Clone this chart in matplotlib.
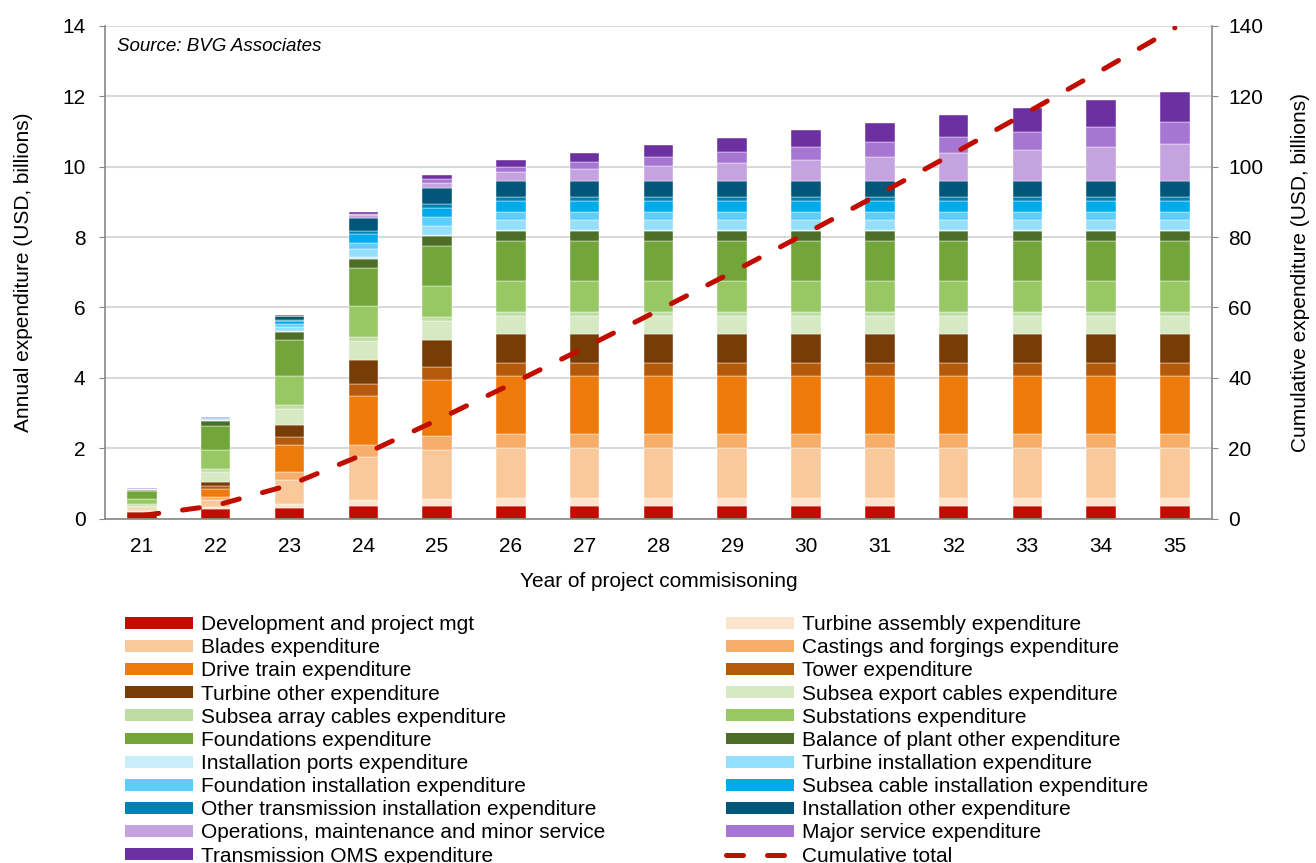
import numpy as np
import matplotlib.pyplot as plt
from matplotlib.patches import Patch
from matplotlib.lines import Line2D

plt.rcParams["font.family"] = ["Liberation Sans", "DejaVu Sans"]
plt.rcParams["font.size"] = 15

years = ["21", "22", "23", "24", "25", "26", "27", "28", "29", "30", "31", "32", "33", "34", "35"]

# annual expenditure per component, USD billions (segment heights)
dev = [0.20, 0.27, 0.30, 0.37, 0.37, 0.37, 0.37, 0.37, 0.37, 0.37, 0.37, 0.37, 0.37, 0.37, 0.37]
assembly = [0.02, 0.06, 0.13, 0.17, 0.20, 0.22, 0.22, 0.22, 0.22, 0.22, 0.22, 0.22, 0.22, 0.22, 0.22]
blades = [0.04, 0.21, 0.68, 1.21, 1.39, 1.42, 1.42, 1.42, 1.42, 1.42, 1.42, 1.42, 1.42, 1.42, 1.42]
castings = [0.01, 0.07, 0.21, 0.35, 0.40, 0.40, 0.40, 0.40, 0.40, 0.40, 0.40, 0.40, 0.40, 0.40, 0.40]
drive = [0.02, 0.23, 0.78, 1.39, 1.57, 1.63, 1.63, 1.63, 1.63, 1.63, 1.63, 1.63, 1.63, 1.63, 1.63]
tower = [0.01, 0.08, 0.21, 0.33, 0.38, 0.38, 0.38, 0.38, 0.38, 0.38, 0.38, 0.38, 0.38, 0.38, 0.38]
turb_other = [0.01, 0.11, 0.36, 0.70, 0.78, 0.82, 0.82, 0.82, 0.82, 0.82, 0.82, 0.82, 0.82, 0.82, 0.82]
export_cab = [0.06, 0.30, 0.45, 0.52, 0.52, 0.51, 0.51, 0.51, 0.51, 0.51, 0.51, 0.51, 0.51, 0.51, 0.51]
array_cab = [0.05, 0.09, 0.12, 0.12, 0.12, 0.13, 0.13, 0.13, 0.13, 0.13, 0.13, 0.13, 0.13, 0.13, 0.13]
substations = [0.15, 0.52, 0.80, 0.87, 0.89, 0.88, 0.88, 0.88, 0.88, 0.88, 0.88, 0.88, 0.88, 0.88, 0.88]
foundations = [0.21, 0.68, 1.03, 1.09, 1.14, 1.14, 1.14, 1.14, 1.14, 1.14, 1.14, 1.14, 1.14, 1.14, 1.14]
bop_other = [0.04, 0.16, 0.22, 0.27, 0.26, 0.26, 0.26, 0.26, 0.26, 0.26, 0.26, 0.26, 0.26, 0.26, 0.26]
ports = [0.005, 0.01, 0.03, 0.03, 0.03, 0.03, 0.03, 0.03, 0.03, 0.03, 0.03, 0.03, 0.03, 0.03, 0.03]
turb_inst = [0.005, 0.01, 0.13, 0.25, 0.27, 0.30, 0.30, 0.30, 0.30, 0.30, 0.30, 0.30, 0.30, 0.30, 0.30]
found_inst = [0.005, 0.03, 0.09, 0.16, 0.24, 0.23, 0.23, 0.23, 0.23, 0.23, 0.23, 0.23, 0.23, 0.23, 0.23]
cable_inst = [0.005, 0.01, 0.07, 0.27, 0.28, 0.31, 0.31, 0.31, 0.31, 0.31, 0.31, 0.31, 0.31, 0.31, 0.31]
trans_inst = [0.005, 0.01, 0.02, 0.08, 0.11, 0.11, 0.11, 0.11, 0.11, 0.11, 0.11, 0.11, 0.11, 0.11, 0.11]
inst_other = [0.005, 0.01, 0.12, 0.37, 0.45, 0.46, 0.46, 0.46, 0.46, 0.46, 0.46, 0.46, 0.46, 0.46, 0.46]
om_minor = [0.005, 0.01, 0.01, 0.07, 0.15, 0.26, 0.34, 0.43, 0.51, 0.60, 0.68, 0.80, 0.88, 0.97, 1.05]
major = [0.005, 0.005, 0.01, 0.04, 0.10, 0.14, 0.20, 0.25, 0.32, 0.37, 0.43, 0.45, 0.51, 0.57, 0.63]
trans_oms = [0.005, 0.005, 0.01, 0.05, 0.11, 0.18, 0.26, 0.33, 0.39, 0.46, 0.54, 0.61, 0.69, 0.75, 0.84]

series = [
    ("Development and project mgt", dev, "#C00D00"),
    ("Turbine assembly expenditure", assembly, "#FDE4CC"),
    ("Blades expenditure", blades, "#FAC99B"),
    ("Castings and forgings expenditure", castings, "#F8AE6B"),
    ("Drive train expenditure", drive, "#EF7A0C"),
    ("Tower expenditure", tower, "#B5590B"),
    ("Turbine other expenditure", turb_other, "#783C06"),
    ("Subsea export cables expenditure", export_cab, "#D5E9C2"),
    ("Subsea array cables expenditure", array_cab, "#BEDDA0"),
    ("Substations expenditure", substations, "#98C864"),
    ("Foundations expenditure", foundations, "#72A63B"),
    ("Balance of plant other expenditure", bop_other, "#4C6E27"),
    ("Installation ports expenditure", ports, "#C9EEFB"),
    ("Turbine installation expenditure", turb_inst, "#94DFFC"),
    ("Foundation installation expenditure", found_inst, "#5FCDFB"),
    ("Subsea cable installation expenditure", cable_inst, "#00ABEB"),
    ("Other transmission installation expenditure", trans_inst, "#0081B5"),
    ("Installation other expenditure", inst_other, "#02567A"),
    ("Operations, maintenance and minor service", om_minor, "#C5A3E0"),
    ("Major service expenditure", major, "#A775D2"),
    ("Transmission OMS expenditure", trans_oms, "#6D30A0"),
]

fig = plt.figure(figsize=(13.16, 8.63), dpi=100)
ax = fig.add_axes([0.0798, 0.399, 0.841, 0.571])

x = np.arange(len(years))
bottom = np.zeros(len(years))
handles = []
for name, vals, col in series:
    ax.bar(x, vals, 0.4, bottom=bottom, color=col, edgecolor="white", linewidth=0.3, zorder=2)
    bottom += np.array(vals)
    handles.append(Patch(facecolor=col, label=name))

ax.set_xlim(-0.5, len(years) - 0.5)
ax.set_ylim(0, 14)
ax.set_yticks(np.arange(0, 15, 2))
ax.set_xticks(x)
ax.set_xticklabels(years)
ax.yaxis.grid(True, color="#D9D9D9", linewidth=1.5, zorder=0)
ax.set_axisbelow(True)
for s in ["top", "right"]:
    ax.spines[s].set_visible(False)
for s in ["left", "bottom"]:
    ax.spines[s].set_color("#888888")
    ax.spines[s].set_linewidth(1.2)
ax.tick_params(axis="x", length=0, pad=13, labelsize=15)
ax.tick_params(axis="y", length=4, color="#888888", pad=10, labelsize=15)
ax.set_ylabel("Annual expenditure (USD, billions)", fontsize=15, labelpad=21)
ax.set_xlabel("Year of project commisisoning", fontsize=15, labelpad=12)
ax.text(0.011, 0.975, "Source: BVG Associates", transform=ax.transAxes,
        fontsize=13.5, style="italic", va="top", ha="left")

ax2 = ax.twinx()
cumulative = np.cumsum(bottom)
ax2.plot(x, cumulative, color="#C00D00", linewidth=3.6,
         linestyle=(0, (3.4, 4.8)), dash_capstyle="round",
         label="Cumulative total", zorder=3)
ax2.set_ylim(0, 140)
ax2.set_yticks(np.arange(0, 141, 20))
for s in ["top", "left", "bottom"]:
    ax2.spines[s].set_visible(False)
ax2.spines["right"].set_color("#888888")
ax2.spines["right"].set_linewidth(1.2)
ax2.tick_params(axis="y", length=4, color="#888888", pad=8, labelsize=15)
ax2.set_ylabel("Cumulative expenditure (USD, billions)", fontsize=15, labelpad=20)

handles.append(Line2D([], [], color="#C00D00", linewidth=3.6,
                      linestyle=(0, (3.4, 4.8)), dash_capstyle="round",
                      label="Cumulative total"))
# row-wise order in 2 columns
ordered = handles[0::2] + handles[1::2]
fig.legend(handles=ordered, loc="upper left", bbox_to_anchor=(125 / 1316, 1 - 615 / 863),
           ncol=2, frameon=False, fontsize=15, handlelength=3.25, handleheight=0.5,
           handletextpad=0.4, labelspacing=0.2, columnspacing=5.8, borderpad=0,
           borderaxespad=0)

fig.savefig("out.png", dpi=100)
